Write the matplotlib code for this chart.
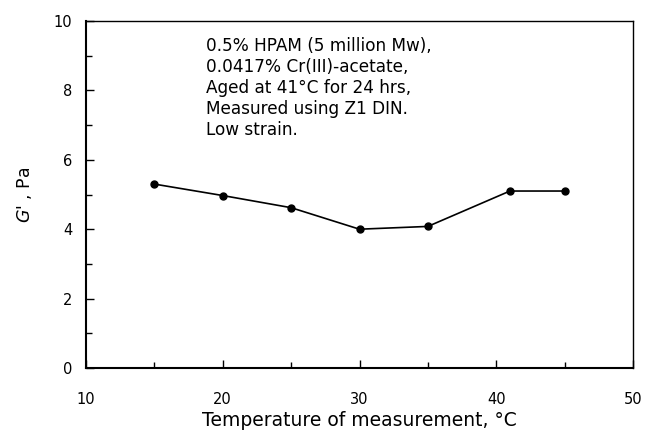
import matplotlib
matplotlib.use("Agg")
import matplotlib.pyplot as plt
from matplotlib.ticker import MultipleLocator

temperature = [15, 20, 25, 30, 35, 41, 45]
g_prime = [5.3, 4.97, 4.62, 4.0, 4.08, 5.1, 5.1]
annotation = ("0.5% HPAM (5 million Mw),\n0.0417% Cr(III)-acetate,\n"
              "Aged at 41\u00b0C for 24 hrs,\nMeasured using Z1 DIN.\nLow strain.")

plt.rcParams['font.family'] = ['DejaVu Sans']
plt.rcParams['mathtext.fontset'] = 'dejavusans'
fig = plt.figure(figsize=(6.57, 4.30), dpi=100)
ax = fig.add_axes([86/657, 1-368/430, (633-86)/657, (368-21)/430])

ax.plot(temperature, g_prime, color='black', linewidth=1.2, marker='o', markersize=5)
ax.set_xlim(10, 50)
ax.set_ylim(0, 10)
ax.xaxis.set_major_locator(MultipleLocator(10))
ax.xaxis.set_minor_locator(MultipleLocator(5))
ax.yaxis.set_major_locator(MultipleLocator(2))
ax.yaxis.set_minor_locator(MultipleLocator(1))
ax.tick_params(which='both', direction='in', top=False, right=False, labelsize=10.5, width=1)
ax.tick_params(which='major', length=6)
ax.tick_params(which='minor', length=4)
ax.tick_params(axis='x', pad=17)
ax.tick_params(axis='y', pad=10)
for s in ax.spines.values():
    s.set_linewidth(1.0)
for s in ['bottom', 'left']:
    ax.spines[s].set_linewidth(1.5)

ax.set_xlabel("Temperature of measurement, \u00b0C", fontsize=13.5, va='center')
ax.xaxis.set_label_coords(0.5, -0.15)
ax.set_ylabel(r"$G$' , Pa", fontsize=12.5, va='center')
ax.yaxis.set_label_coords(-0.113, 0.5)

ax.text(18.75, 9.55, annotation, fontsize=12.2, va='top', ha='left', linespacing=1.22)

fig.savefig("out.png", dpi=100)
